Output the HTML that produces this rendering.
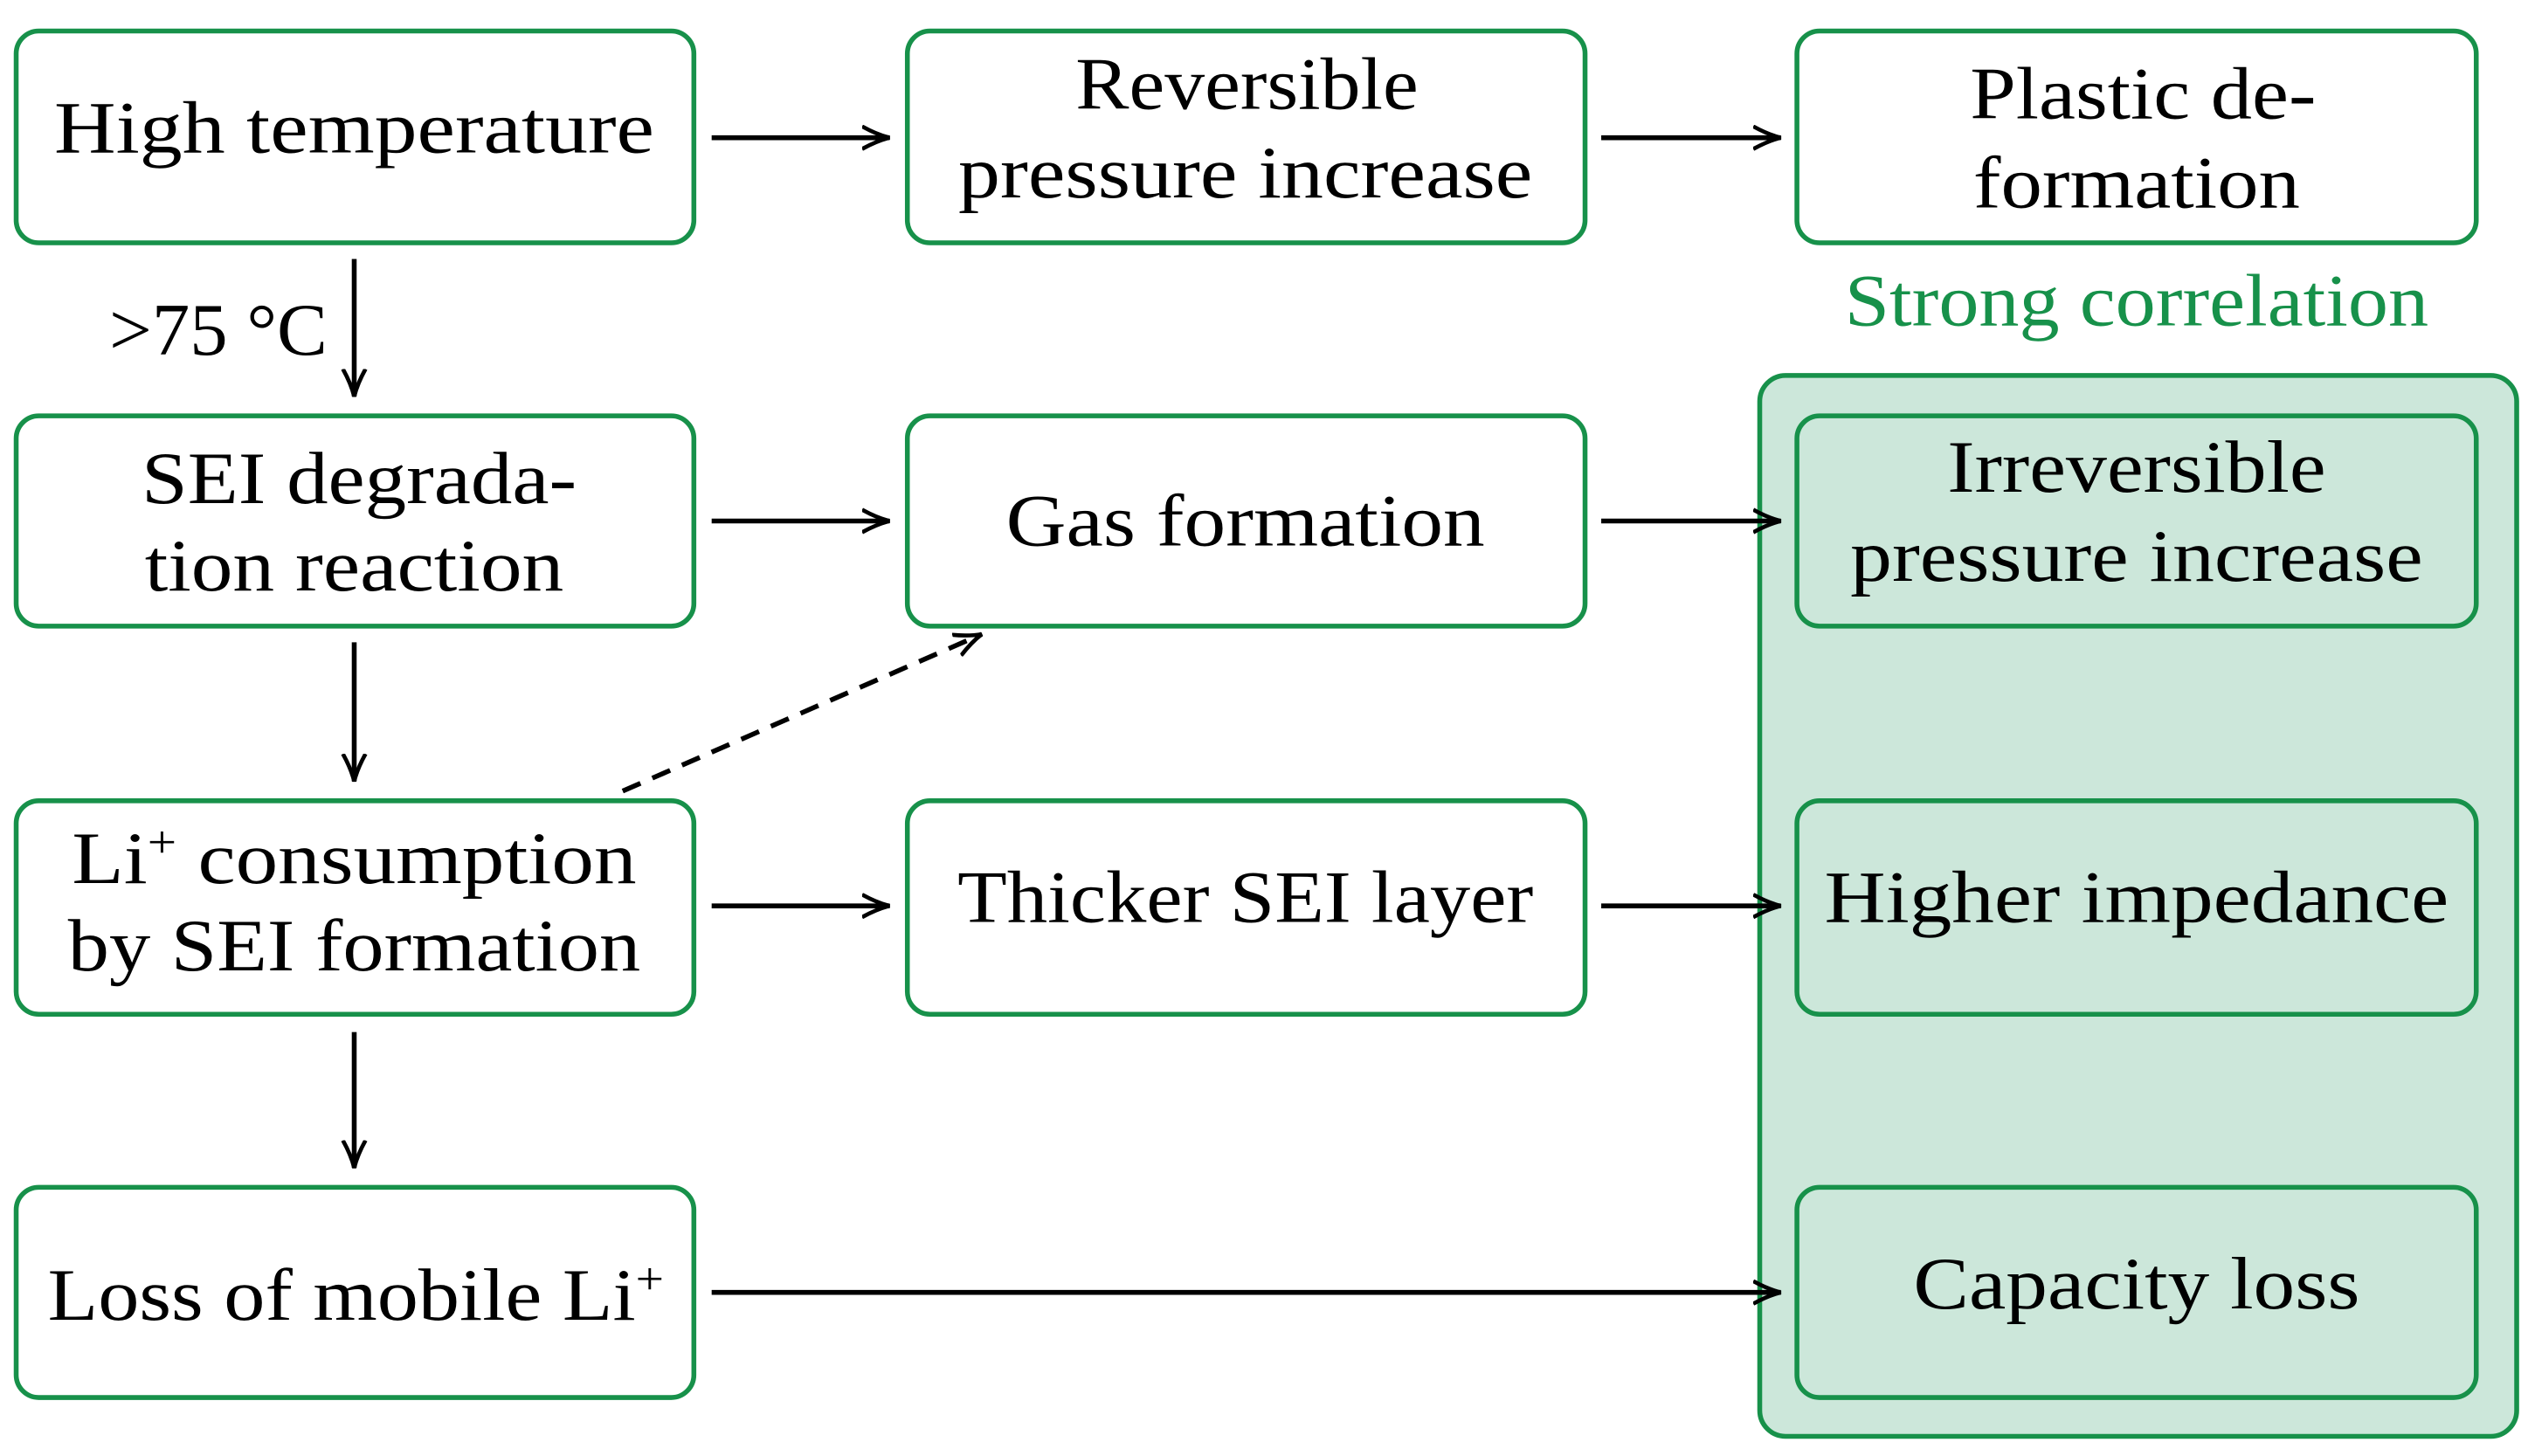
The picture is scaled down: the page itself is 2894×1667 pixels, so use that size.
<!DOCTYPE html>
<html><head><meta charset="utf-8"><style>
html,body{margin:0;padding:0;background:#fff;}
svg{display:block;}
text{font-family:"Liberation Serif",serif;font-size:46px;fill:#000;text-anchor:middle;}
</style></head><body>
<svg width="2894" height="1667" viewBox="0 0 1563 900" xmlns="http://www.w3.org/2000/svg">
<defs>
<marker id="b" markerWidth="18" markerHeight="16" refX="17" refY="8" orient="auto" markerUnits="userSpaceOnUse" viewBox="0 0 18 16">
<path d="M0,1 Q9,6 17,8 Q9,10 0,15" fill="none" stroke="#000" stroke-width="2.5"/>
</marker>
</defs>
<rect x="1088" y="232" width="468" height="656" rx="16" fill="#cce7da" stroke="#17914a" stroke-width="3"/>
<g fill="#fff" stroke="#17914a" stroke-width="3">
<rect x="10" y="19" width="419" height="131" rx="14"/>
<rect x="561" y="19" width="419" height="131" rx="14"/>
<rect x="1111" y="19" width="420" height="131" rx="14"/>
<rect x="10" y="257" width="419" height="130" rx="14"/>
<rect x="561" y="257" width="419" height="130" rx="14"/>
<rect x="10" y="495" width="419" height="132" rx="14"/>
<rect x="561" y="495" width="419" height="132" rx="14"/>
<rect x="10" y="734" width="419" height="130" rx="14"/>
</g>
<g fill="#cce7da" stroke="#17914a" stroke-width="3">
<rect x="1111" y="257" width="420" height="130" rx="14"/>
<rect x="1111" y="495" width="420" height="132" rx="14"/>
<rect x="1111" y="734" width="420" height="130" rx="14"/>
</g>
<g stroke="#000" stroke-width="3" fill="none" marker-end="url(#b)">
<line x1="440" y1="85" x2="550" y2="85"/>
<line x1="990" y1="85" x2="1101" y2="85"/>
<line x1="440" y1="322" x2="550" y2="322"/>
<line x1="990" y1="322" x2="1101" y2="322"/>
<line x1="440" y1="560" x2="550" y2="560"/>
<line x1="990" y1="560" x2="1101" y2="560"/>
<line x1="440" y1="799" x2="1101" y2="799"/>
<line x1="219" y1="160" x2="219" y2="245"/>
<line x1="219" y1="397" x2="219" y2="483"/>
<line x1="219" y1="638" x2="219" y2="722"/>
<line x1="385" y1="489" x2="607" y2="392" stroke-dasharray="12,8"/>
</g>
<g lengthAdjust="spacingAndGlyphs">
<text x="219" y="94" textLength="371" lengthAdjust="spacingAndGlyphs">High temperature</text>
<text x="771" y="67" textLength="212" lengthAdjust="spacingAndGlyphs">Reversible</text>
<text x="770" y="122" textLength="355" lengthAdjust="spacingAndGlyphs">pressure increase</text>
<text x="1325" y="73" textLength="214" lengthAdjust="spacingAndGlyphs">Plastic de-</text>
<text x="1321" y="128" textLength="202" lengthAdjust="spacingAndGlyphs">formation</text>
<text x="135" y="219" textLength="135" lengthAdjust="spacingAndGlyphs">&gt;75 °C</text>
<text x="1321" y="201" textLength="361" lengthAdjust="spacingAndGlyphs" style="fill:#17914a">Strong correlation</text>
<text x="222" y="311" textLength="269" lengthAdjust="spacingAndGlyphs">SEI degrada-</text>
<text x="219" y="365" textLength="259" lengthAdjust="spacingAndGlyphs">tion reaction</text>
<text x="770" y="337" textLength="296" lengthAdjust="spacingAndGlyphs">Gas formation</text>
<text x="1321" y="304" textLength="234" lengthAdjust="spacingAndGlyphs">Irreversible</text>
<text x="1321" y="359" textLength="354" lengthAdjust="spacingAndGlyphs">pressure increase</text>
<text x="219" y="546" textLength="349" lengthAdjust="spacingAndGlyphs">Li<tspan dy="-16" font-size="28">+</tspan><tspan dy="16"> consumption</tspan></text>
<text x="219" y="600" textLength="354" lengthAdjust="spacingAndGlyphs">by SEI formation</text>
<text x="770" y="570" textLength="356" lengthAdjust="spacingAndGlyphs">Thicker SEI layer</text>
<text x="1321" y="570" textLength="386" lengthAdjust="spacingAndGlyphs">Higher impedance</text>
<text x="220" y="816" textLength="381" lengthAdjust="spacingAndGlyphs">Loss of mobile Li<tspan dy="-16" font-size="28">+</tspan></text>
<text x="1321" y="809" textLength="276" lengthAdjust="spacingAndGlyphs">Capacity loss</text>
</g>
</svg>
</body></html>
